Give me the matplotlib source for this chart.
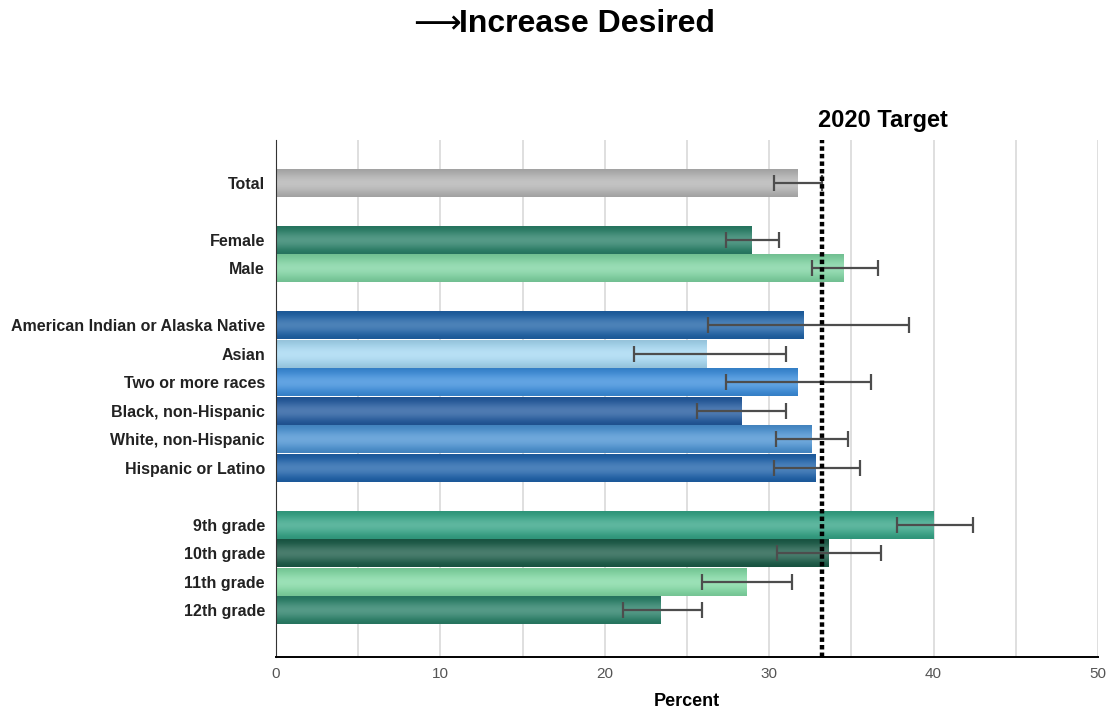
import numpy as np
import matplotlib
matplotlib.use("Agg")
import matplotlib.pyplot as plt
from matplotlib.colors import to_rgb

plt.rcParams['font.family'] = ['Liberation Sans', 'DejaVu Sans']

# data
labels = ["Total", "Female", "Male",
          "American Indian or Alaska Native", "Asian", "Two or more races",
          "Black, non-Hispanic", "White, non-Hispanic", "Hispanic or Latino",
          "9th grade", "10th grade", "11th grade", "12th grade"]
rows = [0, 2, 3, 5, 6, 7, 8, 9, 10, 12, 13, 14, 15]
values = [31.7, 28.9, 34.5, 32.1, 26.2, 31.7, 28.3, 32.6, 32.8, 40.0, 33.6, 28.6, 23.4]
err_lo = [30.3, 27.4, 32.6, 26.3, 21.8, 27.4, 25.6, 30.4, 30.3, 37.8, 30.5, 25.9, 21.1]
err_hi = [33.2, 30.6, 36.6, 38.5, 31.0, 36.2, 31.0, 34.8, 35.5, 42.4, 36.8, 31.4, 25.9]
colors = ["#b4b4b4", "#2a8068", "#7fd4a2",
          "#1f62a6", "#a6d8f2", "#3b8ddb", "#235a9e", "#4b92d2", "#1f62aa",
          "#35a486", "#1c5c48", "#82d9a4", "#2a8068"]
target = 33.2

fig = plt.figure(figsize=(11.13, 7.12), dpi=100)
ax = fig.add_axes([0.248, 0.0772, 0.7385, 0.7262])

h = 0.98
for r, v, c in zip(rows, values, colors):
    bar = ax.barh(r, v, height=h, color=c, zorder=2)[0]
    # vertical shading: darker at edges, lighter in the middle
    base = np.array(to_rgb(c))
    t = np.linspace(0, 1, 64)
    shade = 0.2 * np.sin(np.pi * t) ** 2
    grad = base[None, :] * (1 - shade[:, None]) + shade[:, None]
    grad = grad * (1 - 0.1 * (1 - np.sin(np.pi * t))[:, None])
    im = ax.imshow(grad[:, None, :], extent=[0, v, r + h / 2, r - h / 2],
                   aspect='auto', zorder=2, interpolation='bilinear')
    im.set_clip_path(bar)

vals = np.array(values)
xerr = [vals - np.array(err_lo), np.array(err_hi) - vals]
ax.errorbar(values, rows, xerr=xerr, fmt='none', ecolor='#4d4d4d',
            elinewidth=1.6, capsize=6, capthick=1.6, zorder=4)

ax.axvline(target, color='black', lw=3.2, linestyle=(0, (1, 0.7)), zorder=5)
ax.text(target - 0.25, -1.8, "2020 Target", fontsize=17, fontweight='bold',
        ha='left', va='bottom')

ax.set_xlim(0, 50)
ax.set_ylim(16.65, -1.51)
ax.set_xticks(range(0, 51, 10))
ax.set_xticks(range(5, 51, 10), minor=True)
ax.grid(axis='x', which='both', color='#dcdcdc', lw=1.3, zorder=0)
ax.set_axisbelow(True)
ax.set_yticks(rows)
ax.set_yticklabels(labels, fontsize=11.5, fontweight='bold', color='#222222')
ax.tick_params(axis='both', which='both', length=0)
ax.tick_params(axis='y', pad=8)
ax.tick_params(axis='x', pad=7, labelsize=11, labelcolor='#555555')
for s in ['top', 'right']:
    ax.spines[s].set_visible(False)
ax.spines['left'].set_color('#333333')
ax.spines['bottom'].set_linewidth(1.4)
ax.set_xlabel("Percent", fontsize=13, fontweight='bold', labelpad=9)

fig.text(0.4145, 0.966, "\u27f6", fontsize=24, family=['DejaVu Sans'],
         ha='right', va='center')
fig.text(0.4125, 0.966, "Increase Desired", fontsize=23, fontweight='bold',
         ha='left', va='center')

fig.savefig("out.png", dpi=100)
